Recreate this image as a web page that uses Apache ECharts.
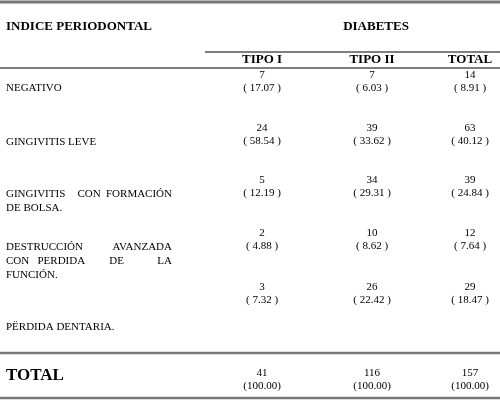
<!DOCTYPE html><html><head><meta charset="utf-8">
<script src="https://cdn.jsdelivr.net/npm/echarts@6/dist/echarts.min.js"></script>
<style>html,body{margin:0;padding:0;background:#fff}#c{width:500px;height:402px}</style></head><body><div id="c"></div>
<script>
const columns=['TIPO I','TIPO II','TOTAL'];
const rowLabels=[['NEGATIVO'],['GINGIVITIS LEVE'],['GINGIVITIS CON FORMACIÓN','DE BOLSA.'],['DESTRUCCIÓN AVANZADA','CON PERDIDA DE LA','FUNCIÓN.'],['PËRDIDA DENTARIA.']];
const tipo1=[7,24,5,2,3];
const tipo2=[7,39,34,10,26];
const total=[14,63,39,12,29];
const pct1=['17.07','58.54','12.19','4.88','7.32'];
const pct2=['6.03','33.62','29.31','8.62','22.42'];
const pctT=['8.91','40.12','24.84','7.64','18.47'];
const totals=[41,116,157];
const totalPct=['100.00','100.00','100.00'];

const F='"Liberation Serif", "DejaVu Serif", serif';
const colX=[262,372,470];
const numY=[75,128,180,233,287];
const labelY=[88,142,194,247,327];
const justify=[false,false,true,true,false];
const g=[];
function T(x,y,s,o){g.push({type:'text',x:x,y:y,style:Object.assign({text:s,fill:'#000',font:'11px '+F,textAlign:'left',textVerticalAlign:'middle'},o||{})});}
function L(x1,y1,x2,y2,w,c){g.push({type:'line',shape:{x1:x1,y1:y1,x2:x2,y2:y2},style:{stroke:c||'#000',lineWidth:w}});}
L(0,2,500,2,3,'#777');
T(6,27,'INDICE PERIODONTAL',{font:'bold 13px '+F});
T(376,27,'DIABETES',{font:'bold 13px '+F,textAlign:'center'});
L(205,52,500,52,1.5,'#555');
columns.forEach((c,i)=>T(colX[i],60,c,{font:'bold 13px '+F,textAlign:'center'}));
L(0,68,500,68,1.2,'#000');
const vals=[tipo1,tipo2,total], pcts=[pct1,pct2,pctT];
rowLabels.forEach((lines,r)=>{
  lines.forEach((ln,k)=>{
    const y=labelY[r]+k*14;
    const words=ln.split(' ');
    if(justify[r]&&k<lines.length-1&&words.length>1){
      const x0=6,x1=172;
      words.forEach((w,j)=>{
        const x=x0+(x1-x0)*j/(words.length-1);
        T(x,y,w,{textAlign:j===0?'left':(j===words.length-1?'right':'center')});
      });
    } else T(6,y,ln);
  });
  for(let c=0;c<3;c++){
    T(colX[c],numY[r],String(vals[c][r]),{textAlign:'center'});
    T(colX[c],numY[r]+13.5,'( '+pcts[c][r]+' )',{textAlign:'center'});
  }
});
L(0,353,500,353,2.5,'#777');
T(6,376,'TOTAL',{font:'bold 17px '+F});
for(let c=0;c<3;c++){
  T(colX[c],373,String(totals[c]),{textAlign:'center'});
  T(colX[c],386,'('+totalPct[c]+')',{textAlign:'center'});
}
L(0,398,500,398,2.5,'#777');
const ch=echarts.init(document.getElementById('c'));
ch.setOption({animation:false,graphic:{elements:g}});
</script></body></html>
